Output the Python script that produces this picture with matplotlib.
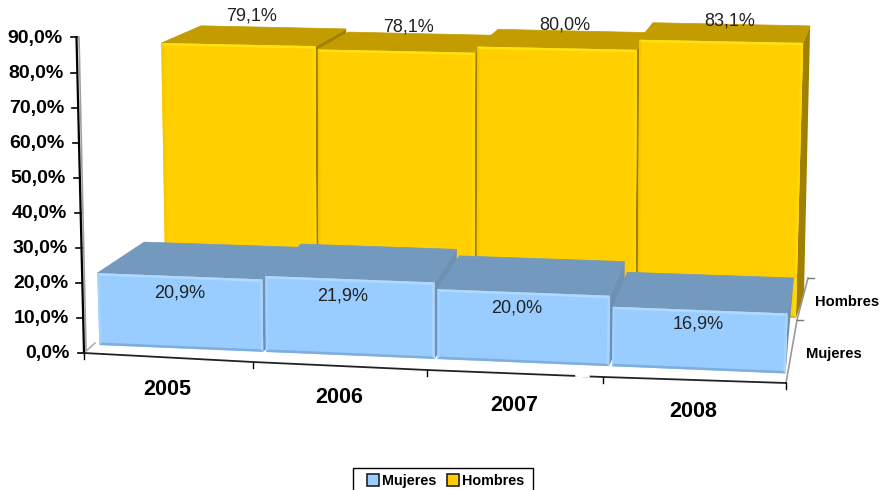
import numpy as np
import matplotlib
matplotlib.use('Agg')
import matplotlib.pyplot as plt
from matplotlib.patches import Patch, Rectangle

years = ['2005', '2006', '2007', '2008']
series = ['Mujeres', 'Hombres']
mujeres = [20.9, 21.9, 20.0, 16.9]
hombres = [79.1, 78.1, 80.0, 83.1]
y_ticks = [0, 10, 20, 30, 40, 50, 60, 70, 80, 90]

# perspective planes, pixel layout of the excel 3d chart
blue_front = dict(edges=[98, 264.5, 436, 610.5, 787], lean=[-.1, -.03, 0, .05, .12],
                  floor=(345, 373.5), scale=(3.44, 3.55))
blue_back = dict(edges=[145, 300, 458, 626, 790], lean=[-.1, 0, 0, 0, .3],
                 floor=(311, 336.3), scale=(3.3, 3.45))
yellow_front = dict(edges=[164.5, 317.5, 475.5, 636.5, 797], lean=[-.055, -.01, .01, .02, .088],
                    floor=(293, 318), scale=(3.16, 3.31))
yellow_back = dict(edges=[204, 348, 497, 651, 805], lean=[-.05, -.01, 0, .01, .075],
                   floor=(271, 296), scale=(3.1, 3.25))


def project(plane, pos, v):
    e = plane['edges']
    x0 = np.interp(pos, range(5), e)
    t = (x0 - e[0]) / (e[-1] - e[0])
    floor = plane['floor'][0] + t * (plane['floor'][1] - plane['floor'][0])
    s = plane['scale'][0] + t * (plane['scale'][1] - plane['scale'][0])
    return x0 + np.interp(pos, range(5), plane['lean']) * v, floor - s * v


def draw_bars(ax, values, front, back, c, gap):
    for i, v in enumerate(values):
        l, r = i + gap, i + 1 - gap
        fl0, fr0 = project(front, l, 0), project(front, r, 0)
        fl1, fr1 = project(front, l, v), project(front, r, v)
        bl1, br1 = project(back, l, v), project(back, r, v)
        br0 = project(back, r, 0)
        ax.fill(*zip(fr0, fr1, br1, br0), color=c['side'], lw=0)
        ax.fill(*zip(fl1, fr1, br1, bl1), color=c['top'], lw=0.5)
        ax.fill(*zip(fl0, fl1, fr1, fr0), color=c['face'], lw=0)
        # bevel strips round the front face
        b = 2.5
        ax.fill(*zip(fr1, fr0, (fr0[0] - b, fr0[1] - b), (fr1[0] - b, fr1[1] + b)), color=c['right'], lw=0)
        ax.fill(*zip(fl1, fl0, (fl0[0] + b, fl0[1] - b), (fl1[0] + b, fl1[1] + b)), color=c['left'], lw=0)
        ax.fill(*zip(fl1, fr1, (fr1[0] - b, fr1[1] + b), (fl1[0] + b, fl1[1] + b)), color=c['hi'], lw=0)
        ax.fill(*zip(fl0, fr0, (fr0[0] - b, fr0[1] - b), (fl0[0] + b, fl0[1] - b)), color=c['lo'], lw=0)


yellow = dict(face='#FFCF00', top='#C39C00', side='#A08000', hi='#FFE010', right='#FFD805', left='#FAC800', lo='#E6BB00')
blue = dict(face='#99CCFF', top='#7399BF', side='#6D90B4', hi='#B0D9FF', right='#A8D4FF', left='#A4D2FF', lo='#7FAEDC')

fig = plt.figure(figsize=(8.82, 4.9), dpi=100)
ax = fig.add_axes([0, 0, 1, 1])
ax.set_xlim(0, 882)
ax.set_ylim(490, 0)
ax.set_axis_off()
plt.rcParams['font.family'] = 'Liberation Sans'

# walls and axes
ax.plot([84, 95], [353, 343], color='#b0b0b0', lw=1.2)
ax.plot([79, 86], [37, 350], color='#a0a0a0', lw=1.2)
ax.plot([786, 797, 808], [383, 320, 278], color='#9a9a9a', lw=1.2)
ax.plot([808, 814], [278, 278], color='#777777', lw=1)
ax.plot([797, 803], [320, 320], color='#777777', lw=1)

draw_bars(ax, hombres, yellow_front, yellow_back, yellow, .007)
draw_bars(ax, mujeres, blue_front, blue_back, blue, .008)

# value axis
for v in y_ticks:
    x = np.interp(v, [0, 90], [84, 76.5])
    y = np.interp(v, [0, 90], [353, 37.5])
    ax.plot([x - 6, x], [y, y], color='black', lw=1.2)
    ax.text(x - 14, y + .5, f'{v:.1f}%'.replace('.', ','), ha='right', va='center',
            fontsize=14, fontweight='bold', color='black')
ax.plot([84, 76.5], [353, 37.5], color='black', lw=1.6)

# category axis
cat_x = [84, 253, 427, 603, 786]
cat_y = [353, 362, 370, 377, 383]
ax.plot(cat_x, cat_y, color='#222222', lw=1.3)
ax.plot([578, 587], [374.2, 374.6], color='white', lw=4)
for x, y in zip(cat_x, cat_y):
    ax.plot([x, x], [y, y + 6], color='black', lw=1)
for i, name in enumerate(years):
    mx = (cat_x[i] + cat_x[i + 1]) / 2
    my = (cat_y[i] + cat_y[i + 1]) / 2
    ax.text(mx - 1, my + 31.5, name, ha='center', va='center', fontsize=15.5, fontweight='bold')

# series labels
ax.text(815, 302, series[1], ha='left', va='center', fontsize=10.6, fontweight='bold')
ax.text(806, 354, series[0], ha='left', va='center', fontsize=10.6, fontweight='bold')

# data labels, moved by hand in the original
top_off = [(-22, -11), (-14, -7), (-10, -6), (-2, -3)]
low_off = [(0, 17), (-7, 17), (-7, 16), (-2, 14)]
for i, v in enumerate(hombres):
    x, y = project(yellow_back, i + .5, v)
    ax.text(x + top_off[i][0], y + top_off[i][1], f'{v:.1f}%'.replace('.', ','), ha='center', va='center',
            fontsize=13, color='#222222')
for i, v in enumerate(mujeres):
    x, y = project(blue_front, i + .5, v)
    ax.text(x + low_off[i][0], y + low_off[i][1], f'{v:.1f}%'.replace('.', ','), ha='center', va='center',
            fontsize=13, color='#222222')

# legend box runs past the bottom of the picture
ax.add_patch(Rectangle((353, 468), 180, 30, facecolor='white', edgecolor='black', lw=1))
handles = [Patch(facecolor='#99CCFF', edgecolor='#222222', lw=1.2, label=series[0]),
           Patch(facecolor='#FFCC00', edgecolor='#222222', lw=1.2, label=series[1])]
leg = ax.legend(handles=handles, ncol=2, loc='upper left', bbox_to_anchor=(367, 474), bbox_transform=ax.transData,
                frameon=False, borderaxespad=0, borderpad=0, prop=dict(size=10.4, weight='bold'),
                handlelength=.85, handleheight=.85, handletextpad=.2, columnspacing=.7)

fig.savefig('out.png', dpi=100)
